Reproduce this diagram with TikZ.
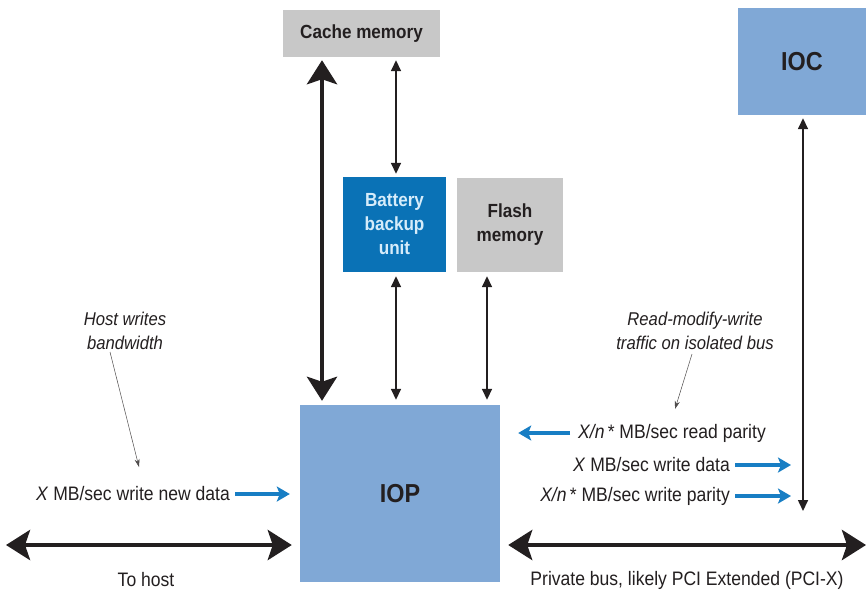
\documentclass[tikz,border=0pt]{standalone}
\usepackage{fontspec}
\setmainfont{Liberation Sans}[FakeStretch=0.9]
\usetikzlibrary{arrows.meta}
\definecolor{boxgray}{RGB}{200,200,200}
\definecolor{ioblue}{RGB}{128,168,214}
\definecolor{bbublue}{RGB}{10,114,182}
\definecolor{bbutext}{RGB}{214,236,250}
\definecolor{flowblue}{RGB}{24,126,196}
\definecolor{ink}{RGB}{35,31,32}
\tikzset{
  graybox/.style={fill=boxgray,text=ink,font=\bfseries\fontsize{19}{24}\selectfont,align=center,inner sep=0pt},
  bluebox/.style={fill=ioblue,text=ink,font=\bfseries\fontsize{26}{30}\selectfont,inner sep=0pt},
  bbubox/.style={fill=bbublue,text=bbutext,font=\bfseries\fontsize{19}{24}\selectfont,align=center,inner sep=0pt},
  buslabel/.style={text=ink,font=\fontsize{19.5}{22}\selectfont,inner sep=0pt},
  note/.style={text=ink,font=\itshape\fontsize{18.5}{24}\selectfont,align=center,inner sep=0pt},
  busarrow/.style={line width=4.5pt,ink,{Stealth[length=24pt,width=30pt,inset=5pt]}-{Stealth[length=24pt,width=30pt,inset=5pt]}},
  linkarrow/.style={line width=1.6pt,ink,{Triangle[length=11pt,width=10pt]}-{Triangle[length=11pt,width=10pt]}},
  flowarrow/.style={line width=4.5pt,flowblue,-{Stealth[length=13pt,width=15pt,inset=3pt]}},
  pointer/.style={line width=0.5pt,ink!80,-{Stealth[length=8pt,width=5pt]}}
}
\begin{document}
\begin{tikzpicture}[x=1pt,y=-1pt]
 \useasboundingbox[fill=white] (0,0) rectangle (866,592);
 % boxes
 \node[graybox,minimum width=157pt,minimum height=47pt] (cache) at (361.5,33.5) {Cache memory};
 \node[bluebox,minimum width=128pt,minimum height=107pt] (ioc) at (802,61.5) {IOC};
 \node[bbubox,minimum width=103pt,minimum height=95pt] (bbu) at (394.5,224.5) {Battery\\backup\\unit};
 \node[graybox,minimum width=106pt,minimum height=94pt] (flash) at (510,225) {Flash\\memory};
 \node[bluebox,minimum width=200pt,minimum height=177pt] (iop) at (400,493.5) {IOP};
 % links to the IOP
 \draw[busarrow,shorten <=3pt,shorten >=4pt] ([xshift=-39.5pt]cache.south) -- ([xshift=-78pt]iop.north);
 \draw[linkarrow,shorten <=3pt,shorten >=3pt] ([xshift=34.5pt]cache.south) -- ([xshift=1.5pt]bbu.north);
 \draw[linkarrow,shorten <=4pt,shorten >=5pt] ([xshift=1.5pt]bbu.south) -- ([xshift=-4pt]iop.north);
 \draw[linkarrow,shorten <=4pt,shorten >=5pt] ([xshift=-23pt]flash.south) -- ([xshift=87pt]iop.north);
 \coordinate (iocend) at (803,511);
 \draw[linkarrow,shorten <=3pt] ([xshift=1pt]ioc.south) -- (iocend);
 % host side
 \node[note] (hostnote) at (125,331) {Host writes\\bandwidth};
 \coordinate (hostpt) at (139,467);
 \draw[pointer] (110,352) -- (hostpt);
 \node[buslabel,anchor=east] (newdata) at (230,494) {\textit{X} MB/sec write new data};
 \draw[flowarrow] (newdata.east) ++(5pt,0) coordinate (nd) -- (nd -| iop.west) [shorten >=10pt];
 \coordinate (hostend) at (6,545);
 \draw[busarrow] (hostend) -- ([xshift=-8pt]hostend -| iop.west);
 \node[buslabel] (tohost) at (146,580) {To host};
 % private bus side
 \node[note] (rmwnote) at (695,331) {Read-modify-write\\traffic on isolated bus};
 \coordinate (rmwpt) at (675,409);
 \draw[pointer] (692,354) -- (rmwpt);
 \node[buslabel,anchor=west] (rdpar) at (578,433) {\textit{X/n}\,* MB/sec read parity};
 \draw[flowarrow] ([xshift=-8pt]rdpar.west) -- ([xshift=18pt]rdpar.west -| iop.east);
 \node[buslabel,anchor=east] (wrdata) at (730,465) {\textit{X} MB/sec write data};
 \draw[flowarrow] ([xshift=5pt]wrdata.east) -- ([xshift=-12pt]wrdata.east -| iocend);
 \node[buslabel,anchor=east] (wrpar) at (730,496) {\textit{X/n}\,* MB/sec write parity};
 \draw[flowarrow] ([xshift=5pt]wrpar.east) -- ([xshift=-12pt]wrpar.east -| iocend);
 \coordinate (busend) at (866,545);
 \draw[busarrow] ([xshift=8pt]busend -| iop.east) -- (busend);
 \node[buslabel] (privbus) at (687,580) {Private bus, likely PCI Extended (PCI-X)};
\end{tikzpicture}
\end{document}
